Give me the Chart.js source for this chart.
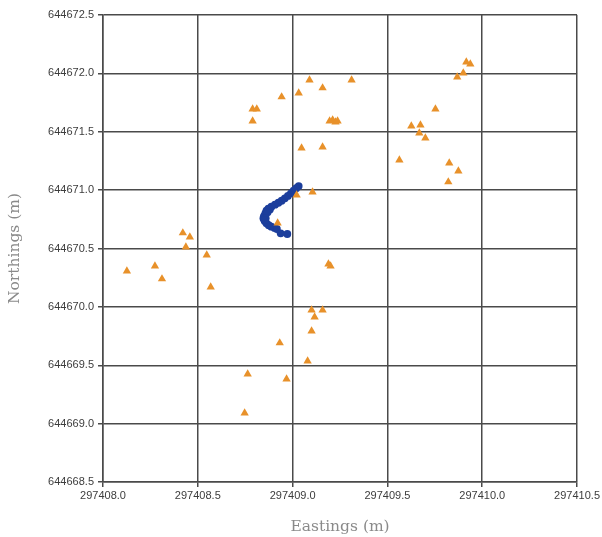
<!DOCTYPE html>
<html>
<head>
<meta charset="utf-8">
<script src="https://cdn.jsdelivr.net/npm/chart.js@4.4.1/dist/chart.umd.min.js"></script>
<style>
  html, body { margin: 0; padding: 0; background: #fff; }
  #wrap { width: 602px; height: 537px; position: relative; }
</style>
</head>
<body>
<div id="wrap"><canvas id="c" width="602" height="537"></canvas></div>
<script>
// ---- data (Eastings / Northings in metres) ----
const xTicks = [297408.0, 297408.5, 297409.0, 297409.5, 297410.0, 297410.5];
const yTicks = [644668.5, 644669.0, 644669.5, 644670.0, 644670.5, 644671.0, 644671.5, 644672.0, 644672.5];

const triE = [297409.916, 297409.937, 297409.900, 297409.868, 297409.753, 297409.626, 297409.674, 297409.668,
  297409.700, 297409.563, 297409.826, 297409.874, 297409.821, 297408.789, 297408.811, 297408.789,
  297408.942, 297409.032, 297409.089, 297409.158, 297409.311, 297409.211, 297409.226, 297409.195,
  297409.237, 297409.047, 297409.158, 297409.105, 297409.021, 297408.921, 297408.421, 297408.458,
  297408.437, 297408.547, 297408.126, 297408.274, 297408.311, 297408.568, 297409.189, 297409.200,
  297409.100, 297409.158, 297409.116, 297409.100, 297408.932, 297409.079, 297408.763, 297408.968,
  297408.747];
const triN = [644672.097, 644672.080, 644672.003, 644671.969, 644671.695, 644671.549, 644671.558, 644671.489,
  644671.446, 644671.258, 644671.232, 644671.164, 644671.070, 644671.695, 644671.695, 644671.592,
  644671.798, 644671.832, 644671.943, 644671.875, 644671.943, 644671.601, 644671.583, 644671.592,
  644671.592, 644671.361, 644671.369, 644670.984, 644670.958, 644670.718, 644670.633, 644670.598,
  644670.513, 644670.444, 644670.307, 644670.350, 644670.239, 644670.170, 644670.367, 644670.350,
  644669.973, 644669.973, 644669.913, 644669.793, 644669.691, 644669.536, 644669.425, 644669.382,
  644669.091];

const dotE = [297409.032, 297409.019, 297409.005, 297408.991, 297408.975, 297408.959, 297408.942, 297408.925,
  297408.907, 297408.888, 297408.872, 297408.862, 297408.856, 297408.849, 297408.846, 297408.853,
  297408.862, 297408.874, 297408.888, 297408.905, 297408.917, 297408.937, 297408.972,
  297408.880, 297408.868, 297408.858, 297408.851];
const dotN = [644671.035, 644671.016, 644670.995, 644670.973, 644670.950, 644670.930, 644670.909, 644670.892,
  644670.875, 644670.858, 644670.841, 644670.824, 644670.801, 644670.778, 644670.759, 644670.736,
  644670.716, 644670.699, 644670.687, 644670.676, 644670.667, 644670.630, 644670.624,
  644670.835, 644670.810, 644670.760, 644670.745];

const toPts = (xs, ys) => xs.map((x, i) => ({ x: x, y: ys[i] }));

const gridColor = '#4a4a4a';
const tickFont = { family: "'Liberation Sans', Arial, sans-serif", size: 11 };
const titleFont = { family: "'DejaVu Serif', serif", size: 15.5 };

new Chart(document.getElementById('c'), {
  type: 'scatter',
  data: {
    datasets: [
      {
        label: 'Triangles',
        data: toPts(triE, triN),
        pointStyle: 'triangle',
        pointRadius: 4.8,
        backgroundColor: '#E8912A',
        borderColor: '#E8912A',
        borderWidth: 0
      },
      {
        label: 'Dots',
        data: toPts(dotE, dotN),
        pointStyle: 'circle',
        pointRadius: 3.9,
        backgroundColor: '#1C3E9C',
        borderColor: '#1C3E9C',
        borderWidth: 0
      }
    ]
  },
  options: {
    responsive: false,
    animation: false,
    devicePixelRatio: 1,
    layout: { padding: { top: 15, right: 24, left: 0, bottom: 0 } },
    plugins: { legend: { display: false }, tooltip: { enabled: false } },
    scales: {
      x: {
        type: 'linear',
        min: xTicks[0],
        max: xTicks[xTicks.length - 1],
        afterBuildTicks: s => { s.ticks = xTicks.map(v => ({ value: v })); },
        afterFit: s => { s.height = 55; },
        ticks: {
          font: tickFont, color: '#3c3c3c', padding: 2, maxRotation: 0, autoSkip: false,
          callback: v => Number(v).toFixed(1)
        },
        grid: { color: gridColor, lineWidth: 1.5, tickLength: 5, drawTicks: true },
        border: { display: true, color: gridColor, width: 1.5 },
        title: {
          display: true, text: 'Eastings (m)', font: titleFont, color: '#8a8a8a',
          padding: { top: 0, bottom: 1 }
        }
      },
      y: {
        type: 'linear',
        min: yTicks[0],
        max: yTicks[yTicks.length - 1],
        afterBuildTicks: s => { s.ticks = yTicks.map(v => ({ value: v })); },
        afterFit: s => { s.width = 103; },
        ticks: {
          font: tickFont, color: '#3c3c3c', padding: 4, autoSkip: false,
          callback: v => Number(v).toFixed(1)
        },
        grid: { color: gridColor, lineWidth: 1.5, tickLength: 5, drawTicks: true },
        border: { display: true, color: gridColor, width: 1.5 },
        title: {
          display: true, text: 'Northings (m)', font: titleFont, color: '#8a8a8a',
          padding: { top: 6, bottom: 0 }
        }
      }
    }
  }
});
</script>
</body>
</html>
